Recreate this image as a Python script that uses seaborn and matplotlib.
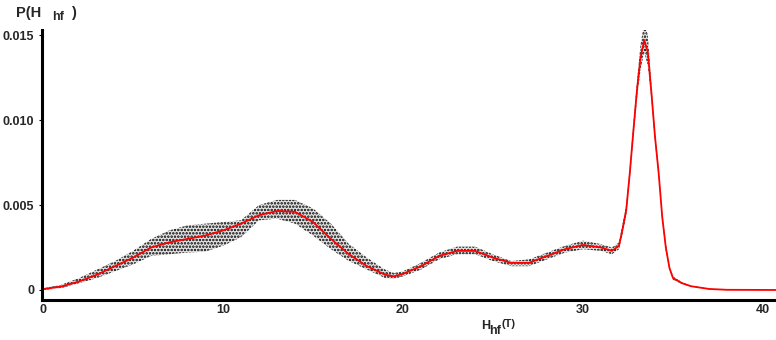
import numpy as np
import pandas as pd
import matplotlib
matplotlib.use("Agg")
import matplotlib.pyplot as plt
import seaborn as sns

# Hyperfine field grid (T)
h_field = [0, 1, 2, 3, 4, 5, 6, 7, 8, 9, 10, 11, 12, 13, 14, 15, 16, 17, 18, 19, 19.5,
           20, 21, 22, 23, 24, 25, 26, 27, 28, 29, 30, 31, 31.6, 32, 32.2, 32.4, 32.6,
           32.8, 33.0, 33.2, 33.4, 33.6, 33.8, 34.0, 34.2, 34.4, 34.6, 34.8, 35.0, 35.5,
           36, 37, 38, 40.7]
# mean distribution (red)
p_mean = [0.00005, 0.0002, 0.0005, 0.0009, 0.0014, 0.0019, 0.0025, 0.0028, 0.0030, 0.0032,
          0.0035, 0.0039, 0.0044, 0.00465, 0.0046, 0.0040, 0.0030, 0.0021, 0.0014, 0.0009,
          0.0008, 0.00095, 0.0014, 0.0020, 0.0023, 0.0023, 0.0019, 0.0016, 0.0016, 0.0020,
          0.0024, 0.00265, 0.0025, 0.0023, 0.0026, 0.0036, 0.0047, 0.0069, 0.0094, 0.0118,
          0.0137, 0.0147, 0.0140, 0.0116, 0.0090, 0.0069, 0.0043, 0.0025, 0.0013, 0.0007,
          0.0004, 0.00022, 0.00006, 0.00001, 0.0]
# uncertainty band (black stipple)
p_upper = [0.0001, 0.0003, 0.0007, 0.0012, 0.0017, 0.0023, 0.0030, 0.0035, 0.0038, 0.0039,
           0.0040, 0.0041, 0.0050, 0.0053, 0.0053, 0.0048, 0.0039, 0.0027, 0.0019, 0.0012,
           0.0010, 0.0011, 0.0016, 0.0022, 0.00255, 0.00255, 0.0021, 0.0017, 0.0018, 0.0022,
           0.0026, 0.0029, 0.0027, 0.0025, 0.0028, 0.0039, 0.0050, 0.0072, 0.0098, 0.0123,
           0.0145, 0.0157, 0.0150, 0.0120, 0.0093, 0.0071, 0.0045, 0.0027, 0.0014, 0.0008,
           0.00045, 0.00025, 0.00008, 0.00002, 0.0]
p_lower = [0.0, 0.0001, 0.0004, 0.0007, 0.0011, 0.0015, 0.0020, 0.0021, 0.0022, 0.00225,
           0.0026, 0.0031, 0.0041, 0.0042, 0.0039, 0.0032, 0.0024, 0.0017, 0.0012, 0.0007,
           0.00065, 0.0008, 0.0012, 0.0018, 0.0021, 0.0021, 0.0017, 0.0014, 0.0014, 0.0018,
           0.0022, 0.0024, 0.0023, 0.0021, 0.0024, 0.0033, 0.0044, 0.0066, 0.0090, 0.0113,
           0.0130, 0.0140, 0.0132, 0.0112, 0.0087, 0.0067, 0.0041, 0.0023, 0.0012, 0.0006,
           0.00035, 0.0002, 0.00004, 0.0, 0.0]

x_ticks = [0, 10, 20, 30, 40]
x_tick_labels = ["0", "10", "20", "30", "40"]
y_ticks = [0, 0.005, 0.010, 0.015]
y_tick_labels = ["0", "0.005", "0.010", "0.015"]

df = pd.DataFrame({"H": h_field, "P": p_mean})

W, H = 776, 340
sns.set_style("white")
plt.rcParams["font.family"] = ["Liberation Sans", "DejaVu Sans"]
plt.rcParams["hatch.linewidth"] = 1.2
plt.rcParams["hatch.color"] = "black"

fig = plt.figure(figsize=(W / 100, H / 100), dpi=100)
ax = fig.add_axes([42 / W, 1 - 300 / H, 1 - 42 / W, (300 - 30) / H])

ax.fill_between(h_field, p_lower, p_upper, facecolor="#e4e4e4", edgecolor="black",
                hatch=".....", linewidth=0)
sns.lineplot(data=df, x="H", y="P", color="#ff0000", linewidth=1.3, ax=ax)

ax.set_xlim(-0.055, 40.72)
ax.set_ylim(-0.00059, 0.0153)
ax.set_xticks(x_ticks)
ax.set_xticklabels(x_tick_labels)
ax.set_yticks(y_ticks)
ax.set_yticklabels(y_tick_labels)
ax.set_xlabel("")
ax.set_ylabel("")
fs = 9
for lbl in ax.get_xticklabels() + ax.get_yticklabels():
    lbl.set_fontweight("bold")
    lbl.set_fontsize(fs)
ax.tick_params(axis="x", length=0, pad=3)
ax.tick_params(axis="y", length=2, width=0.8, pad=3.5, left=True, color="black")

for s in ["top", "right"]:
    ax.spines[s].set_visible(False)
for s in ["left", "bottom"]:
    ax.spines[s].set_linewidth(2.2)
    ax.spines[s].set_color("black")


def px(x, y):
    return x / W, 1 - y / H


fig.text(*px(16, 17), "P(H", fontsize=10.5, fontweight="bold", va="baseline", ha="left")
fig.text(*px(52, 20), "hf", fontsize=fs, fontweight="bold", va="baseline", ha="left")
fig.text(*px(71, 17), ")", fontsize=10.5, fontweight="bold", va="baseline", ha="left")

fig.text(*px(481, 329), "H", fontsize=fs, fontweight="bold", va="baseline", ha="left")
fig.text(*px(489, 334), "hf", fontsize=fs, fontweight="bold", va="baseline", ha="left")
fig.text(*px(502, 327), "(T)", fontsize=fs - 1, fontweight="bold", va="baseline", ha="left")

fig.savefig("out.png", dpi=100, facecolor="white")
